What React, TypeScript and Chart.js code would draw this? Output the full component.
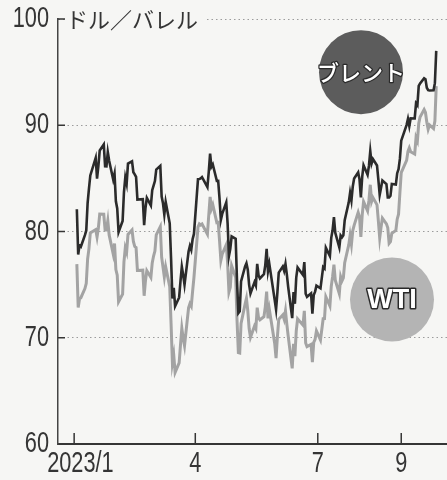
import { useEffect, useRef } from "react";
import { Chart, registerables } from "chart.js";

Chart.register(...registerables);

// ---- data (2023, daily closes, USD/bbl) ----
const dates = [
  "01-03","01-04","01-05","01-06","01-09","01-10","01-11","01-12","01-13","01-17","01-18","01-19","01-20","01-23","01-24","01-25","01-26","01-27","01-30","01-31",
  "02-01","02-02","02-03","02-06","02-07","02-08","02-09","02-10","02-13","02-14","02-15","02-16","02-17","02-21","02-22","02-23","02-24","02-27","02-28",
  "03-01","03-02","03-03","03-06","03-07","03-08","03-09","03-10","03-13","03-14","03-15","03-16","03-17","03-20","03-21","03-22","03-23","03-24","03-27","03-28","03-29","03-30","03-31",
  "04-03","04-04","04-05","04-06","04-10","04-11","04-12","04-13","04-14","04-17","04-18","04-19","04-20","04-21","04-24","04-25","04-26","04-27","04-28",
  "05-01","05-02","05-03","05-04","05-05","05-08","05-09","05-10","05-11","05-12","05-15","05-16","05-17","05-18","05-19","05-22","05-23","05-24","05-25","05-26","05-30","05-31",
  "06-01","06-02","06-05","06-06","06-07","06-08","06-09","06-12","06-13","06-14","06-15","06-16","06-20","06-21","06-22","06-23","06-26","06-27","06-28","06-29","06-30",
  "07-03","07-05","07-06","07-07","07-10","07-11","07-12","07-13","07-14","07-17","07-18","07-19","07-20","07-21","07-24","07-25","07-26","07-27","07-28","07-31",
  "08-01","08-02","08-03","08-04","08-07","08-08","08-09","08-10","08-11","08-14","08-15","08-16","08-17","08-18","08-21","08-22","08-23","08-24","08-25","08-28","08-29","08-30","08-31",
  "09-01","09-05","09-06","09-07","09-08","09-11","09-12","09-13","09-14","09-15","09-18","09-19","09-20","09-21","09-22","09-25","09-26","09-27",
];

const brent = [
  82.1,77.84,78.69,78.57,79.65,80.1,82.67,84.03,85.28,86.92,84.98,86.16,87.63,88.19,86.13,86.12,87.47,86.66,84.9,85.46,
  82.84,82.17,79.94,80.99,83.69,85.09,84.5,86.39,86.61,85.58,85.38,85.14,83.0,83.05,80.6,82.21,83.16,82.45,83.89,
  84.31,84.75,85.83,86.18,83.29,82.66,81.59,82.78,80.77,77.45,73.69,74.7,72.97,73.79,75.32,76.69,75.91,74.99,78.12,78.65,78.28,79.27,79.77,
  84.93,84.94,84.99,85.12,84.18,85.61,87.33,86.09,86.31,84.76,84.77,83.12,81.1,81.66,82.73,80.77,77.69,78.37,79.54,
  79.31,75.32,72.33,72.5,75.3,76.71,77.01,76.41,74.98,74.17,75.23,74.91,76.96,75.86,75.58,75.99,76.84,78.36,76.26,76.95,73.54,72.66,
  74.28,76.13,76.71,76.29,76.95,75.96,74.79,71.84,74.29,73.2,75.67,76.61,75.9,77.12,74.14,73.85,74.18,72.26,74.03,74.34,74.9,
  74.65,76.65,76.52,78.47,77.69,79.4,80.11,81.36,79.87,78.5,79.63,79.46,79.64,81.07,82.74,83.64,82.92,84.24,84.99,85.56,
  84.91,83.2,85.14,86.24,85.34,86.17,87.55,86.4,86.81,86.21,84.89,83.45,84.12,84.8,84.46,83.21,83.21,83.36,84.48,84.42,85.49,85.86,86.83,
  88.55,90.04,90.6,89.92,90.65,90.64,92.06,91.88,93.7,93.93,94.43,94.34,93.53,93.3,93.27,93.29,93.96,97.0,
];

const wti = [
  76.93,72.84,73.67,73.77,74.63,75.12,77.41,78.39,79.86,80.18,79.48,80.33,81.64,81.62,80.13,80.15,81.01,79.68,77.9,78.87,
  76.41,75.88,73.39,74.11,77.14,78.47,78.06,79.72,80.14,79.06,78.59,78.49,76.34,76.36,73.95,75.39,76.32,75.68,77.05,
  77.69,78.16,79.68,80.46,77.58,76.66,75.72,76.68,74.8,71.33,67.61,68.35,66.74,67.64,69.33,70.9,69.96,69.26,72.81,73.2,72.97,74.37,75.67,
  80.42,80.71,80.61,80.7,79.74,81.53,83.26,82.16,82.52,80.83,80.86,79.16,77.29,77.87,78.76,77.07,74.3,74.76,76.78,
  75.66,71.66,68.6,68.56,71.34,73.16,73.71,72.56,70.87,70.04,71.11,70.86,72.83,71.86,71.69,71.99,72.91,74.34,71.83,72.67,69.46,68.09,
  70.1,71.74,72.15,71.74,72.53,71.29,70.17,67.12,69.42,68.27,70.62,71.78,71.19,72.53,69.51,69.16,69.37,67.7,69.56,69.86,70.64,
  69.79,71.79,71.8,73.86,72.99,74.83,75.75,76.89,75.42,74.15,75.75,75.35,75.63,77.07,78.74,79.63,78.78,80.09,80.58,81.8,
  81.37,79.49,81.55,82.82,81.94,82.92,84.4,82.82,83.19,82.51,80.99,79.38,80.39,81.25,80.72,80.35,78.89,79.05,79.83,80.1,81.16,81.63,83.63,
  85.55,86.69,87.54,87.87,87.51,87.29,88.84,88.52,90.16,90.77,91.48,91.2,90.28,89.63,90.03,89.68,90.39,93.68,
];

const xTickDates = ["01-01", "04-01", "07-01", "09-01"];
const xTickLabels = ["2023/1", "4", "7", "9"];
const yTicks = [60, 70, 80, 90, 100];
const unitLabel = "ドル／バレル";
const seriesNames = ["ブレント", "WTI"];

function dayOfYear(md: string): number {
  const [m, d] = md.split("-").map(Number);
  return Math.round((Date.UTC(2023, m - 1, d) - Date.UTC(2023, 0, 1)) / 86400000);
}

const BG = "#f6f6f4";
const INK = "#353535";
const NUM_FONT = "'Liberation Sans', Arial, sans-serif";
const JP_FONT = "'Noto Sans CJK JP', 'Noto Sans', sans-serif";
const SQUEEZE = 0.75;

export default function App() {
  const ref = useRef<HTMLCanvasElement | null>(null);

  useEffect(() => {
    document.body.style.margin = "0";
    const canvas = ref.current;
    if (!canvas) return;
    const tickDays = xTickDates.map(dayOfYear);

    const drawSqueezed = (ctx: any, text: string, x: number, y: number, align: "left" | "right" | "center") => {
      ctx.save();
      ctx.translate(x, y);
      ctx.scale(SQUEEZE, 1);
      ctx.textAlign = align;
      ctx.textBaseline = "middle";
      ctx.fillText(text, 0, 0);
      ctx.restore();
    };

    const decor = {
      id: "decor",
      beforeDraw(chart: any) {
        const { ctx, width, height } = chart;
        ctx.save();
        ctx.fillStyle = BG;
        ctx.fillRect(0, 0, width, height);
        ctx.restore();
      },
      afterDraw(chart: any) {
        const { ctx, chartArea } = chart;
        const xs = chart.scales.x;
        const ys = chart.scales.y;
        ctx.save();
        ctx.strokeStyle = INK;
        ctx.lineWidth = 1.5;
        // inward x tick marks
        tickDays.forEach((v) => {
          const px = xs.getPixelForValue(v);
          ctx.beginPath();
          ctx.moveTo(px, chartArea.bottom);
          ctx.lineTo(px, chartArea.bottom - 11);
          ctx.stroke();
        });
        // short solid y ticks at grid lines
        yTicks.forEach((v) => {
          if (v === 60) return;
          const py = ys.getPixelForValue(v);
          ctx.beginPath();
          ctx.moveTo(chartArea.left, py);
          ctx.lineTo(chartArea.left + 7, py);
          ctx.stroke();
        });

        // tick labels (condensed numerals)
        ctx.fillStyle = INK;
        ctx.font = `29px ${NUM_FONT}`;
        yTicks.forEach((v) => {
          drawSqueezed(ctx, String(v), chartArea.left - 9, ys.getPixelForValue(v), "right");
        });
        tickDays.forEach((v, i) => {
          const px = xs.getPixelForValue(v);
          if (i === 0) drawSqueezed(ctx, xTickLabels[i], px - 27, chartArea.bottom + 20, "left");
          else drawSqueezed(ctx, xTickLabels[i], px, chartArea.bottom + 20, "center");
        });

        // unit label at top
        const yTop = ys.getPixelForValue(100);
        ctx.font = `22px ${JP_FONT}`;
        const tw = ctx.measureText(unitLabel).width;
        ctx.fillStyle = BG;
        ctx.fillRect(chartArea.left + 8, yTop - 13, tw + 6, 26);
        ctx.fillStyle = INK;
        ctx.textBaseline = "middle";
        ctx.textAlign = "left";
        ctx.fillText(unitLabel, chartArea.left + 8, yTop + 1);

        // badges
        const drawBadge = (cx: number, cy: number, fill: string, text: string, font: string, lw: number) => {
          ctx.beginPath();
          ctx.arc(cx, cy, 42, 0, Math.PI * 2);
          ctx.fillStyle = fill;
          ctx.fill();
          ctx.font = font;
          ctx.textAlign = "center";
          ctx.textBaseline = "middle";
          ctx.lineJoin = "round";
          ctx.lineWidth = lw;
          ctx.strokeStyle = "#2a2a2a";
          ctx.strokeText(text, cx, cy + 1);
          ctx.fillStyle = "#ffffff";
          ctx.fillText(text, cx, cy + 1);
        };
        drawBadge(chartArea.right - 86, ys.getPixelForValue(95.0), "#5c5c5c", seriesNames[0], `500 22px ${JP_FONT}`, 2.5);
        drawBadge(chartArea.right - 55, ys.getPixelForValue(73.6), "#b4b4b4", seriesNames[1], `bold 27px ${NUM_FONT}`, 3);
        ctx.restore();
      },
    };

    const chart = new Chart(canvas, {
      type: "line",
      data: {
        datasets: [
          {
            label: seriesNames[0],
            data: dates.map((d, i) => ({ x: dayOfYear(d), y: brent[i] })),
            borderColor: "#2b2b2b",
            borderWidth: 2.6,
            pointRadius: 0,
            tension: 0,
          },
          {
            label: seriesNames[1],
            data: dates.map((d, i) => ({ x: dayOfYear(d), y: wti[i] })),
            borderColor: "#a3a3a3",
            borderWidth: 3,
            pointRadius: 0,
            tension: 0,
          },
        ],
      },
      options: {
        animation: false,
        responsive: false,
        devicePixelRatio: 1,
        layout: { padding: { top: 19, right: 0, left: 0, bottom: 0 } },
        plugins: { legend: { display: false }, tooltip: { enabled: false } },
        scales: {
          x: {
            type: "linear",
            min: -12,
            max: 277,
            afterBuildTicks: (s: any) => {
              s.ticks = tickDays.map((v) => ({ value: v }));
            },
            afterFit: (s: any) => {
              s.height = 36;
            },
            ticks: { display: false },
            grid: { display: false, drawTicks: false },
            border: { display: true, color: INK, width: 2 },
          },
          y: {
            min: 60,
            max: 100,
            afterBuildTicks: (s: any) => {
              s.ticks = yTicks.map((v) => ({ value: v }));
            },
            afterFit: (s: any) => {
              s.width = 58;
            },
            ticks: { display: false },
            grid: {
              drawTicks: false,
              lineWidth: 1,
              color: (c: any) => (c.tick && c.tick.value === 60 ? "rgba(0,0,0,0)" : "#9c9c9c"),
            },
            border: { display: true, color: "#444444", width: 1.5, dash: [1.5, 3] },
          },
        },
      },
      plugins: [decor],
    } as any);

    return () => chart.destroy();
  }, []);

  return (
    <div style={{ width: 447, height: 480 }}>
      <canvas ref={ref} width={447} height={480} style={{ display: "block" }} />
    </div>
  );
}
